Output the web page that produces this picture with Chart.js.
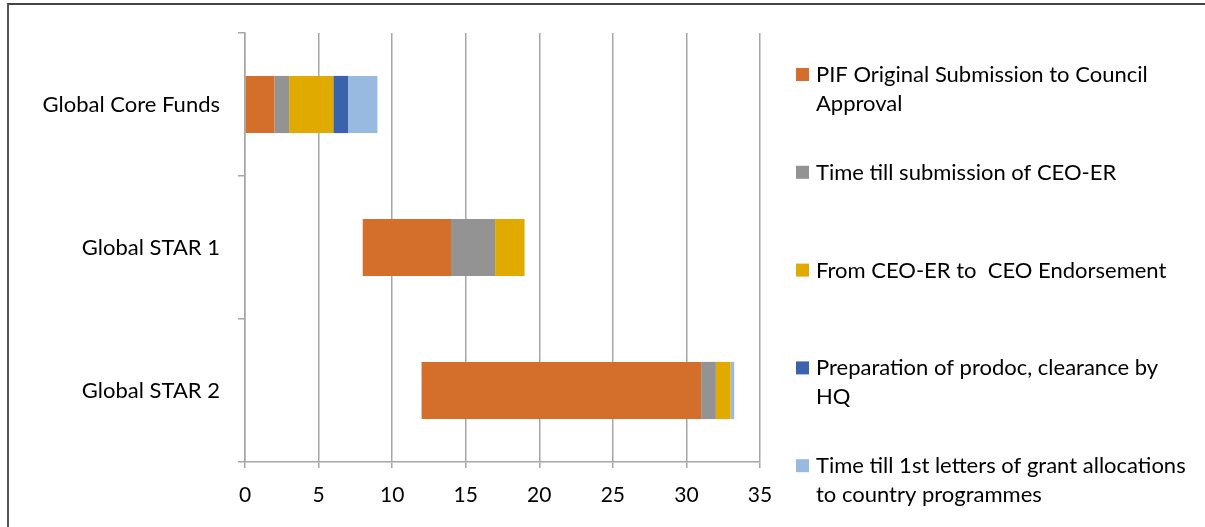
<!DOCTYPE html>
<html>
<head>
<meta charset="utf-8">
<script src="https://cdn.jsdelivr.net/npm/chart.js@4/dist/chart.umd.min.js"></script>
<style>
  body { margin: 0; background: #fff; }
  #wrap { position: relative; width: 1205px; height: 527px; overflow: hidden; }
  #frame { position: absolute; left: 7px; top: 3px; width: 1210px; height: 540px;
           border-left: 2px solid #555; border-top: 2px solid #444; }
  #cht { position: absolute; left: 0; top: 0; }
</style>
</head>
<body>
<div id="wrap">
  <div id="frame"></div>
  <canvas id="cht" width="1205" height="527"></canvas>
</div>
<script>
// projects (top to bottom)
const projects = ['Global Core Funds', 'Global STAR 1', 'Global STAR 2'];

// invisible lead-in so every bar starts where its first stage starts
const startOffset = [0, 8, 12];

// stage lengths
const pifToCouncil = [2, 6, 19];
const tillCeoEr = [1, 3, 1];
const ceoErToEndorse = [3, 2, 1];
const prodocPrep = [1, 0, 0];
const tillLetters = [2, 0, 0.25];

const xTicks = [0, 5, 10, 15, 20, 25, 30, 35];

// legend names, broken the same way as in the original
const seriesNames = [
    ['PIF Original Submission to Council', 'Approval'],
    ['Time till submission of CEO-ER'],
    ['From CEO-ER to  CEO Endorsement'],
    ['Preparation of prodoc, clearance by', 'HQ'],
    ['Time till 1st letters of grant allocations', 'to country programmes']
];
const seriesColors = ['#D46F2B', '#939393', '#E1AA00', '#3B63AD', '#98B9E0'];

const fontFam = 'Lato, "Open Sans", sans-serif';
const txtColor = '#000';
const gridColor = '#a6a6a6';

// legend drawn by hand, Chart.js legend can't space the items like this
const sideLegend = {
    id: 'sideLegend',
    afterDraw(chart) {
        const ctx = chart.ctx;
        ctx.save();
        ctx.font = '22px ' + fontFam;
        ctx.textBaseline = 'middle';
        ctx.textAlign = 'left';
        for (let i = 0; i < seriesNames.length; i++) {
            let y = 75 + i * 97.8;
            ctx.fillStyle = seriesColors[i];
            ctx.fillRect(796, y - 7, 13, 13);
            ctx.fillStyle = txtColor;
            seriesNames[i].forEach((line, j) => {
                ctx.fillText(line, 816, y + j * 28.5);
            });
        }
        ctx.restore();
    }
};

let stageData = [pifToCouncil, tillCeoEr, ceoErToEndorse, prodocPrep, tillLetters];
let datasets = [{
    label: 'offset',
    data: startOffset,
    backgroundColor: 'rgba(0,0,0,0)'
}];
stageData.forEach((d, i) => {
    datasets.push({
        label: seriesNames[i].join(' '),
        data: d,
        backgroundColor: seriesColors[i],
        borderWidth: 0
    });
});

const chart = new Chart(document.getElementById('cht'), {
    type: 'bar',
    data: { labels: projects, datasets: datasets },
    options: {
        indexAxis: 'y',
        responsive: false,
        animation: false,
        events: [],
        barPercentage: 0.4,
        categoryPercentage: 1,
        layout: { padding: { left: 0, top: 33, right: 445, bottom: 0 } },
        plugins: {
            legend: { display: false },
            tooltip: { enabled: false }
        },
        scales: {
            x: {
                stacked: true,
                min: 0,
                max: 35,
                afterBuildTicks: s => { s.ticks = xTicks.map(v => ({ value: v })); },
                afterFit: s => { s.height = 65; },
                grid: { color: gridColor, lineWidth: 1.5, tickLength: 6 },
                border: { color: gridColor, width: 1.5 },
                ticks: { color: txtColor, padding: 15, font: { family: fontFam, size: 21 } }
            },
            y: {
                stacked: true,
                afterFit: s => { s.width = 245; },
                grid: { drawOnChartArea: false, color: gridColor, lineWidth: 1.5, tickLength: 7, offset: true },
                border: { color: gridColor, width: 1.5 },
                ticks: { color: txtColor, padding: 18, font: { family: fontFam, size: 22 } }
            }
        }
    },
    plugins: [sideLegend]
});
</script>
</body>
</html>
